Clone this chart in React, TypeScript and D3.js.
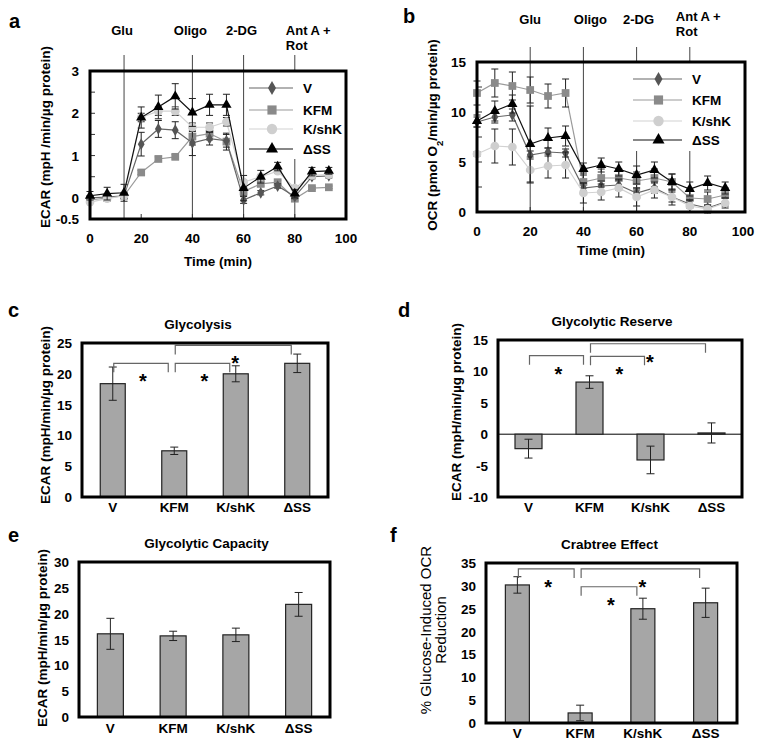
import React, { useEffect, useRef } from 'react';
import * as d3 from 'd3';

const FONT = '"Liberation Sans", Arial, sans-serif';

// measurement times (min), shared by panels a and b
const times = [0, 6.7, 13.3, 20, 26.7, 33.3, 40, 46.7, 53.3, 60, 66.7, 73.3, 80, 86.7, 93.3];
const groups = ['V', 'KFM', 'K/shK', 'ΔSS'];
const timeTicks = [0, 20, 40, 60, 80, 100];

// panel a - ECAR
const ecarV = [0.0, 0.02, 0.05, 1.27, 1.63, 1.6, 1.3, 1.4, 1.35, -0.05, 0.12, 0.28, 0.03, 0.5, 0.52];
const ecarVErr = [0.05, 0.05, 0.05, 0.28, 0.2, 0.2, 0.3, 0.15, 0.15, 0.08, 0.05, 0.05, 0.05, 0.05, 0.05];
const ecarKFM = [-0.05, 0.0, 0.05, 0.6, 0.92, 0.97, 1.45, 1.52, 1.33, 0.15, 0.33, 0.37, -0.02, 0.23, 0.25];
const ecarKFMErr = [0.03, 0.03, 0.05, 0.05, 0.05, 0.05, 0.2, 0.15, 0.2, 0.1, 0.05, 0.05, 0.05, 0.03, 0.03];
const ecarShK = [-0.1, -0.02, 0.05, 1.9, 2.05, 2.05, 1.67, 1.67, 1.8, 0.37, 0.5, 0.63, 0.23, 0.53, 0.55];
const ecarShKErr = [0.03, 0.03, 0.05, 0.1, 0.1, 0.1, 0.1, 0.1, 0.1, 0.05, 0.05, 0.05, 0.05, 0.05, 0.05];
const ecarSS = [0.05, 0.1, 0.12, 1.9, 2.15, 2.4, 2.02, 2.2, 2.2, 0.23, 0.5, 0.74, 0.1, 0.62, 0.64];
const ecarSSErr = [0.1, 0.15, 0.2, 0.25, 0.28, 0.3, 0.33, 0.25, 0.25, 0.3, 0.15, 0.1, 0.1, 0.1, 0.08];

// panel b - OCR
const ocrV = [9.0, 9.5, 9.7, 5.7, 6.0, 5.9, 2.4, 2.6, 2.7, 1.9, 2.4, 1.5, 0.8, 0.4, 1.0];
const ocrVErr = [0.5, 0.6, 0.6, 0.4, 0.4, 0.4, 0.5, 0.5, 0.5, 0.5, 0.5, 0.5, 0.4, 0.3, 0.4];
const ocrKFM = [11.9, 12.9, 12.6, 12.2, 11.6, 11.9, 3.0, 3.4, 3.4, 3.1, 3.4, 3.0, 1.4, 1.3, 1.7];
const ocrKFMErr = [1.2, 1.4, 1.4, 1.3, 1.2, 1.4, 0.9, 0.9, 0.9, 0.9, 0.9, 0.8, 0.9, 0.7, 0.7];
const ocrShK = [5.8, 6.6, 6.5, 4.2, 4.6, 4.7, 1.9, 2.0, 2.4, 1.5, 2.2, 1.5, 0.6, 0.3, 0.9];
const ocrShKErr = [0.2, 1.7, 1.8, 1.3, 1.2, 1.3, 1.0, 0.8, 0.9, 0.9, 0.8, 0.8, 0.6, 0.4, 0.5];
const ocrSS = [9.1, 10.1, 10.8, 6.8, 7.4, 7.6, 4.3, 4.7, 4.3, 3.7, 4.2, 3.0, 2.3, 2.9, 2.4];
const ocrSSErr = [0.6, 1.0, 0.9, 3.8, 1.0, 1.0, 0.6, 0.7, 0.7, 0.9, 0.8, 0.8, 0.7, 0.7, 0.6];

// bar panels
const glycolysis = [18.4, 7.5, 20.0, 21.7];
const glycolysisErr = [2.7, 0.6, 1.3, 1.5];
const reserve = [-2.3, 8.3, -4.1, 0.2];
const reserveErr = [1.5, 1.0, 2.2, 1.6];
const capacity = [16.1, 15.7, 15.9, 21.8];
const capacityErr = [3.0, 0.9, 1.3, 2.3];
const crabtree = [30.2, 2.2, 25.0, 26.3];
const crabtreeErr = [1.8, 1.7, 2.3, 3.2];

// significance brackets: [from group, to group, level]
const sigC = [[0, 1, 21.7], [1, 2, 21.7], [1, 3, 24.6]];
const sigD = [[0, 1, 12.5], [1, 2, 12.4], [1, 3, 14.4]];
const sigF = [[0, 1, 33.7], [1, 3, 33.7], [1, 2, 29.8]];

const seriesStyle = [
  { name: 'V', fill: '#555', stroke: '#666', symbol: d3.symbolDiamond, size: 40 },
  { name: 'KFM', fill: '#8a8a8a', stroke: '#9a9a9a', symbol: d3.symbolSquare, size: 60 },
  { name: 'K/shK', fill: '#cfcfcf', stroke: '#d2d2d2', symbol: d3.symbolCircle, size: 60 },
  { name: 'ΔSS', fill: '#000', stroke: '#111', symbol: d3.symbolTriangle, size: 45 },
];

function txt(g, x, y, s, size = 13, anchor = 'middle', weight = 'bold') {
  return g.append('text').attr('x', x).attr('y', y).attr('text-anchor', anchor)
    .attr('font-size', size).attr('font-weight', weight).text(s);
}

function drawLine(svg, p) {
  const g = svg.append('g');
  const x = d3.scaleLinear().domain([0, 100]).range([p.left, p.xEnd]);
  const y = d3.scaleLinear().domain(p.yDomain).range([p.bottom, p.top]);

  // injection markers
  p.inject.forEach((inj) => {
    g.append('line').attr('x1', x(inj.t)).attr('x2', x(inj.t)).attr('y1', p.injTop).attr('y2', p.bottom)
      .attr('stroke', '#444').attr('stroke-width', 1);
    inj.label.forEach((s, i) => {
      txt(g, x(inj.t) + inj.dx, inj.y + i * 15, s, 13, inj.anchor);
    });
  });

  // inner ticks
  d3.range(p.yDomain[0], p.yDomain[1] + 0.001, p.minor).forEach((v) => {
    g.append('line').attr('x1', p.left).attr('x2', p.left + 5).attr('y1', y(v)).attr('y2', y(v))
      .attr('stroke', '#333');
  });
  timeTicks.slice(1, -1).forEach((t) => {
    g.append('line').attr('x1', x(t)).attr('x2', x(t)).attr('y1', p.bottom).attr('y2', p.bottom - 5)
      .attr('stroke', '#333');
  });

  const order = [1, 0, 2, 3];
  order.forEach((k) => {
    const st = seriesStyle[k];
    const vals = p.values[k];
    const errs = p.errors[k];
    const line = d3.line<number>().x((d, i) => x(times[i])).y((d) => y(d));
    g.append('path').datum(vals).attr('d', line).attr('fill', 'none')
      .attr('stroke', st.stroke).attr('stroke-width', 1.2);
    vals.forEach((v, i) => {
      const cx = x(times[i]);
      const eg = g.append('g').attr('stroke', '#222').attr('stroke-width', 1);
      eg.append('line').attr('x1', cx).attr('x2', cx).attr('y1', y(v - errs[i])).attr('y2', y(v + errs[i]));
      [v - errs[i], v + errs[i]].forEach((e) => {
        eg.append('line').attr('x1', cx - 3.5).attr('x2', cx + 3.5).attr('y1', y(e)).attr('y2', y(e));
      });
    });
    g.selectAll(null).data(vals).enter().append('path')
      .attr('d', d3.symbol(st.symbol, st.size))
      .attr('transform', (d, i) => `translate(${x(times[i])},${y(d)})`)
      .attr('fill', st.fill);
  });

  // legend
  const L = p.legend;
  g.append('rect').attr('x', L.x0).attr('y', p.top + 1).attr('width', p.right - L.x0 - 1)
    .attr('height', L.bgBottom - p.top).attr('fill', '#fff');
  seriesStyle.forEach((st, i) => {
    const ly = L.rows[i];
    g.append('line').attr('x1', L.x0 + 2).attr('x2', L.x1).attr('y1', ly).attr('y2', ly)
      .attr('stroke', st.stroke).attr('stroke-width', 1.2);
    g.append('path').attr('d', d3.symbol(st.symbol, st.size * 1.4))
      .attr('transform', `translate(${(L.x0 + L.x1) / 2 + 2},${ly})`).attr('fill', st.fill);
    txt(g, L.tx, ly + 5, st.name, 13.5, 'start');
  });

  g.append('rect').attr('x', p.left).attr('y', p.top).attr('width', p.right - p.left)
    .attr('height', p.bottom - p.top).attr('fill', 'none').attr('stroke', '#000').attr('stroke-width', 3);

  p.yTicks.forEach((v) => txt(g, p.left - 11, y(v) + 5, String(v), 13.5, 'end'));
  timeTicks.forEach((t) => txt(g, x(t), p.xTickY, String(t), 13.5));
  txt(g, (p.left + p.right) / 2, p.xTitleY, 'Time (min)', 13.5);

  const yl = g.append('text').attr('transform', `translate(${p.yLabelX},${p.yLabelY}) rotate(-90)`)
    .attr('text-anchor', 'middle').attr('font-size', 13.5).attr('font-weight', 'bold');
  p.yLabel.forEach((part) => {
    const t = yl.append('tspan').text(part.t);
    if (part.sub) t.attr('baseline-shift', 'sub').attr('font-size', 9.5);
  });
  txt(g, p.letter[0], p.letter[1], p.letter[2], 20, 'start');
}

function drawBar(svg, p) {
  const g = svg.append('g');
  const x = d3.scalePoint().domain(groups).range([p.left, p.right]).padding(0.5);
  const y = d3.scaleLinear().domain(p.yDomain).range([p.bottom, p.top]);
  const bw = p.barWidth;

  if (p.yDomain[0] < 0) {
    g.append('line').attr('x1', p.left).attr('x2', p.right).attr('y1', y(0)).attr('y2', y(0))
      .attr('stroke', '#000').attr('stroke-width', 1);
  }

  g.selectAll(null).data(p.values).enter().append('rect')
    .attr('x', (d, i) => x(groups[i]) - bw / 2)
    .attr('y', (d) => y(Math.max(0, d)))
    .attr('width', bw)
    .attr('height', (d) => Math.abs(y(d) - y(0)))
    .attr('fill', '#a6a6a6').attr('stroke', '#222').attr('stroke-width', 1.2);

  p.values.forEach((v, i) => {
    const cx = x(groups[i]);
    const e = p.errors[i];
    const eg = g.append('g').attr('stroke', '#222').attr('stroke-width', 1);
    eg.append('line').attr('x1', cx).attr('x2', cx).attr('y1', y(v - e)).attr('y2', y(v + e));
    [v - e, v + e].forEach((w) => {
      eg.append('line').attr('x1', cx - 4).attr('x2', cx + 4).attr('y1', y(w)).attr('y2', y(w));
    });
  });

  (p.sig || []).forEach(([a, b, lvl]) => {
    const x1 = x(groups[a]) + 1;
    const x2 = x(groups[b]) - 6;
    const yy = y(lvl);
    g.append('path').attr('d', `M${x1},${yy + 9}V${yy}H${x2}V${yy + 9}`)
      .attr('fill', 'none').attr('stroke', '#666').attr('stroke-width', 1.2);
    txt(g, (x1 + x2) / 2 + 2, yy + 25, '*', 20);
  });

  g.append('rect').attr('x', p.left).attr('y', p.top).attr('width', p.right - p.left)
    .attr('height', p.bottom - p.top).attr('fill', 'none').attr('stroke', '#000').attr('stroke-width', 3);

  p.yTicks.forEach((v) => txt(g, p.left - 10, y(v) + 5, String(v), 13.5, 'end'));
  groups.forEach((c) => txt(g, x(c), p.catY, c, 13.5));
  txt(g, (p.left + p.right) / 2 + p.titleDx, p.top - 14, p.title, 13.5);

  p.yLabel.forEach((s, i) => {
    g.append('text').attr('transform', `translate(${p.yLabelX + i * 15},${p.yLabelY}) rotate(-90)`)
      .attr('text-anchor', 'middle').attr('font-size', p.yLabelSize || 13.5)
      .attr('font-weight', p.yLabelWeight || 'bold').text(s);
  });
  txt(g, p.letter[0], p.letter[1], p.letter[2], 20, 'start');
}

const App = () => {
  const ref = useRef<SVGSVGElement>(null);

  useEffect(() => {
    const svg = d3.select(ref.current);
    svg.selectAll('*').remove();

    drawLine(svg, {
      left: 90, right: 346, xEnd: 346, top: 71, bottom: 219,
      yDomain: [-0.5, 3], yTicks: [3, 2, 1, 0, -0.5], minor: 0.5,
      values: [ecarV, ecarKFM, ecarShK, ecarSS],
      errors: [ecarVErr, ecarKFMErr, ecarShKErr, ecarSSErr],
      injTop: 55,
      inject: [
        { t: 13.3, label: ['Glu'], dx: -2, y: 35, anchor: 'middle' },
        { t: 40, label: ['Oligo'], dx: -2, y: 35, anchor: 'middle' },
        { t: 60, label: ['2-DG'], dx: -2, y: 35, anchor: 'middle' },
        { t: 80, label: ['Ant A +', 'Rot'], dx: -9, y: 35, anchor: 'start' },
      ],
      legend: { x0: 247, x1: 293, tx: 303, rows: [88, 110, 129, 149], bgBottom: 158 },
      xTickY: 243, xTitleY: 266,
      yLabel: [{ t: 'ECAR (mpH /min/µg protein)' }], yLabelX: 50, yLabelY: 137,
      letter: [9, 28, 'a'],
    });

    drawLine(svg, {
      left: 477, right: 745, xEnd: 743, top: 62, bottom: 212,
      yDomain: [0, 15], yTicks: [15, 10, 5, 0], minor: 2.5,
      values: [ocrV, ocrKFM, ocrShK, ocrSS],
      errors: [ocrVErr, ocrKFMErr, ocrShKErr, ocrSSErr],
      injTop: 47,
      inject: [
        { t: 20, label: ['Glu'], dx: 0, y: 24, anchor: 'middle' },
        { t: 40, label: ['Oligo'], dx: 7, y: 24, anchor: 'middle' },
        { t: 60, label: ['2-DG'], dx: 2, y: 24, anchor: 'middle' },
        { t: 80, label: ['Ant A +', 'Rot'], dx: -14, y: 21, anchor: 'start' },
      ],
      legend: { x0: 631, x1: 682, tx: 692, rows: [79, 100, 121, 140], bgBottom: 150 },
      xTickY: 236, xTitleY: 255,
      yLabel: [{ t: 'OCR (pmol O' }, { t: '2', sub: true }, { t: '/min/µg protein)' }],
      yLabelX: 437, yLabelY: 135,
      letter: [403, 23, 'b'],
    });

    drawBar(svg, {
      left: 82, right: 328, top: 343, bottom: 497, barWidth: 25,
      yDomain: [0, 25], yTicks: [0, 5, 10, 15, 20, 25],
      values: glycolysis, errors: glycolysisErr, sig: sigC,
      catY: 512, title: 'Glycolysis', titleDx: -7,
      yLabel: ['ECAR (mpH/min/µg protein)'], yLabelX: 50, yLabelY: 415,
      letter: [8, 317, 'c'],
    });

    drawBar(svg, {
      left: 498, right: 742, top: 340, bottom: 497, barWidth: 27,
      yDomain: [-10, 15], yTicks: [-10, -5, 0, 5, 10, 15],
      values: reserve, errors: reserveErr, sig: sigD,
      catY: 512, title: 'Glycolytic Reserve', titleDx: -8,
      yLabel: ['ECAR (mpH/min/µg protein)'], yLabelX: 461, yLabelY: 412,
      letter: [398, 317, 'd'],
    });

    drawBar(svg, {
      left: 79, right: 330, top: 562, bottom: 717, barWidth: 26,
      yDomain: [0, 30], yTicks: [0, 5, 10, 15, 20, 25, 30],
      values: capacity, errors: capacityErr,
      catY: 733, title: 'Glycolytic Capacity', titleDx: 2,
      yLabel: ['ECAR (mpH/min/µg protein)'], yLabelX: 47, yLabelY: 638,
      letter: [8, 542, 'e'],
    });

    drawBar(svg, {
      left: 486, right: 737, top: 563, bottom: 723, barWidth: 24,
      yDomain: [0, 35], yTicks: [0, 5, 10, 15, 20, 25, 30, 35],
      values: crabtree, errors: crabtreeErr, sig: sigF,
      catY: 738, title: 'Crabtree Effect', titleDx: -2,
      yLabel: ['% Glucose-Induced OCR', 'Reduction'], yLabelX: 431, yLabelY: 630,
      yLabelSize: 15, yLabelWeight: 'normal',
      letter: [390, 542, 'f'],
    });
  }, []);

  return (
    <svg
      ref={ref}
      width={761}
      height={750}
      fontFamily={FONT}
      style={{ position: 'absolute', left: 0, top: 0, background: '#fff' }}
    />
  );
};

export default App;
